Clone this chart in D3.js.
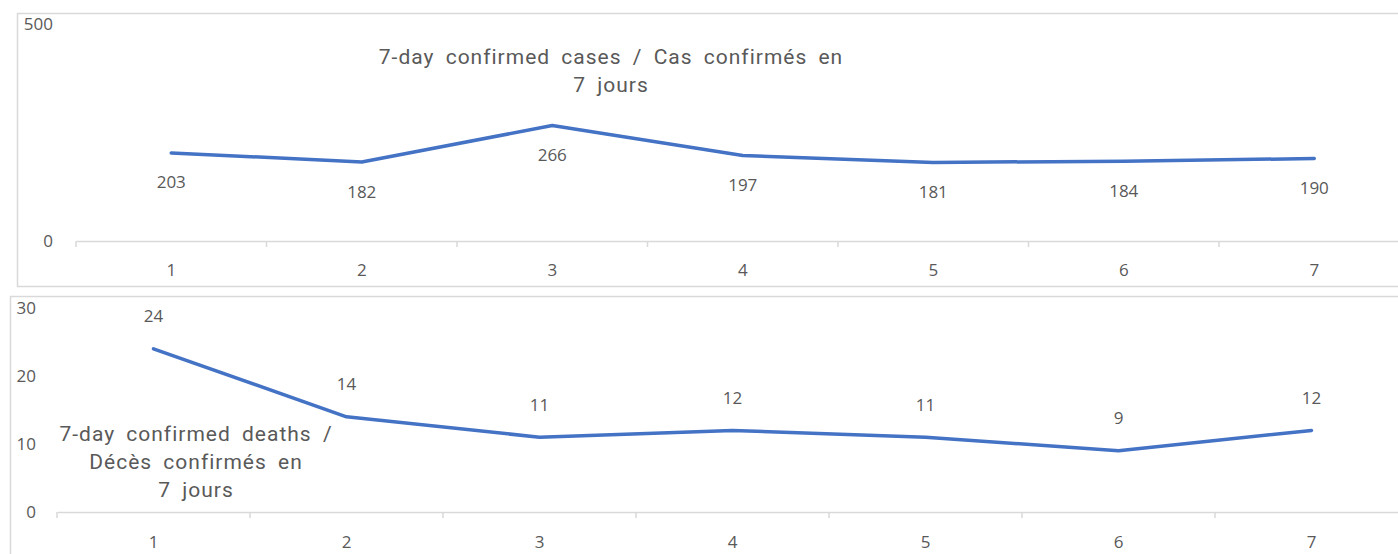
<!DOCTYPE html>
<html><head><meta charset="utf-8">
<script src="https://cdn.jsdelivr.net/npm/d3@7"></script>
<style>
body{margin:0;background:#fff;}
text{font-family:"Open Sans","Noto Sans",sans-serif;fill:#595959;}
.title{font-family:Roboto,"Open Sans",sans-serif;letter-spacing:1px;word-spacing:5px;}
</style></head><body>
<svg id="c" width="1398" height="554"></svg>
<script>
const days = ["1","2","3","4","5","6","7"];
const cases = [203,182,266,197,181,184,190];
const deaths = [24,14,11,12,11,9,12];
const casesTicks = [0,500];
const deathsTicks = [0,10,20,30];
const casesTitle = ["7-day confirmed cases / Cas confirmés en","7 jours"];
const deathsTitle = ["7-day confirmed deaths /","Décès confirmés en","7 jours"];

const svg = d3.select("#c");
const blue = "#4472C4", grid = "#d9d9d9";

function panel(o){
  const g = svg.append("g");
  g.append("rect").attr("x",o.box[0]+0.5).attr("y",o.box[1]+0.5).attr("width",o.box[2]).attr("height",o.box[3])
    .attr("fill","#fff").attr("stroke",grid).attr("stroke-width",1.5);
  const x = d3.scaleBand().domain(days).range(o.xr);
  const y = d3.scaleLinear().domain([0,o.max]).range(o.yr);
  const ax = g.append("g").attr("transform",`translate(0,${o.yr[0]})`)
    .call(d3.axisBottom(x).tickSize(0).tickPadding(o.tickPad));
  ax.select(".domain").attr("stroke",grid).attr("stroke-width",1.5);
  ax.selectAll("text").style("font-size","17px").attr("fill","#595959");
  const bounds = days.map(d=>x(d)).concat([x(days[days.length-1])+x.bandwidth()]);
  g.selectAll(".bt").data(bounds).join("line").attr("x1",d=>d).attr("x2",d=>d)
    .attr("y1",o.yr[0]).attr("y2",o.yr[0]+6).attr("stroke",grid).attr("stroke-width",1.5);
  const ya = g.append("g").attr("transform",`translate(${o.ylx},0)`)
    .call(d3.axisLeft(y).tickValues(o.ticks).tickSize(0).tickPadding(0));
  ya.select(".domain").remove();
  ya.selectAll("text").style("font-size","17px").attr("fill","#595959");
  const line = d3.line().x((d,i)=>x(days[i])+x.bandwidth()/2).y(d=>y(d));
  g.append("path").datum(o.data).attr("d",line).attr("fill","none").attr("stroke",blue)
    .attr("stroke-width",3.5).attr("stroke-linejoin","round").attr("stroke-linecap","round");
  g.selectAll(".lbl").data(o.data).join("text")
    .attr("x",(d,i)=>x(days[i])+x.bandwidth()/2).attr("y",d=>y(d)+o.lblOff)
    .attr("text-anchor","middle").attr("dominant-baseline","middle").style("font-size","17px").text(d=>d);
  g.selectAll(".tt").data(o.title).join("text").attr("class","title")
    .attr("x",o.tx).attr("y",(d,i)=>o.ty+i*o.tlh).attr("text-anchor","middle")
    .attr("dominant-baseline","middle").style("font-size","21px").text(d=>d);
}

panel({box:[17,13,1400,273], xr:[76,76+7*190.5], yr:[241,24], max:500, ticks:casesTicks, ylx:53,
  data:cases, lblOff:31, title:casesTitle, tx:611, ty:58, tlh:28, tickPad:23});
panel({box:[10,296,1400,270], xr:[57,57+7*193], yr:[512,308], max:30, ticks:deathsTicks, ylx:36,
  data:deaths, lblOff:-31, title:deathsTitle, tx:196, ty:435, tlh:28, tickPad:24});
</script></body></html>
